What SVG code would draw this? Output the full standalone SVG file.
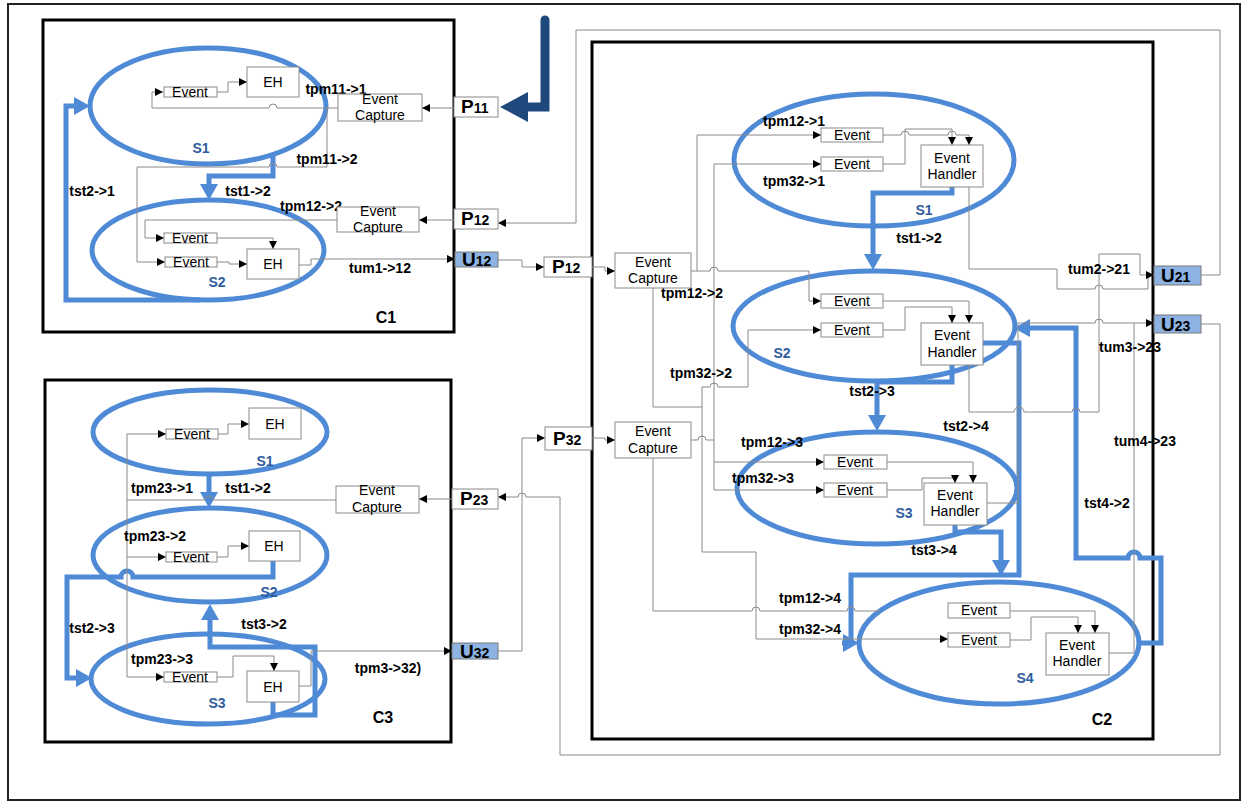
<svg xmlns="http://www.w3.org/2000/svg" width="1247" height="804" viewBox="0 0 1247 804">
<defs>
<style>
.w{fill:none;stroke:#8a8a8a;stroke-width:1}
.wa{marker-end:url(#a)}
.b{fill:none;stroke:#4f8ad6;stroke-width:5;marker-end:url(#ba)}
.el{fill:none;stroke:#4f8ad6;stroke-width:5}
.bx{fill:#fff;stroke:#8a8a8a;stroke-width:1}
.ub{fill:#8db3e2;stroke:#7a7a7a;stroke-width:1}
.ct{fill:none;stroke:#000;stroke-width:3}
text{font-family:'Liberation Sans',Arial,sans-serif;fill:#000}
.t{font-size:14px;text-anchor:middle}
.l{font-size:14px;font-weight:bold;text-anchor:middle}
.s{font-size:14px;font-weight:bold;text-anchor:middle;fill:#2e5c9e}
.c{font-size:16px;font-weight:bold;text-anchor:middle}
.p{font-size:19px;font-weight:bold}
.p tspan{font-size:14px}
</style>
<marker id="a" viewBox="0 0 8 8" refX="8" refY="4" markerWidth="8" markerHeight="8" markerUnits="userSpaceOnUse" orient="auto"><path d="M0,0 L8,4 L0,8 z" fill="#000"/></marker>
<marker id="ba" viewBox="0 0 16 18" refX="0" refY="9" markerWidth="16" markerHeight="18" markerUnits="userSpaceOnUse" orient="auto"><path d="M0,0 L16,9 L0,18 z" fill="#4f8ad6"/></marker>
<marker id="na" viewBox="0 0 28 30" refX="0" refY="15" markerWidth="28" markerHeight="30" markerUnits="userSpaceOnUse" orient="auto"><path d="M0,0 L28,15 L0,30 z" fill="#1f497d"/></marker>
</defs>
<rect x="0" y="0" width="1247" height="804" fill="#fff"/>
<rect x="8" y="4" width="1232" height="796" fill="none" stroke="#222" stroke-width="2"/>

<g id="C1"><rect class="ct" x="43" y="20" width="411" height="312"/><text class="c" x="386" y="323">C1</text></g>
<g id="C3"><rect class="ct" x="45" y="380" width="406" height="362"/><text class="c" x="383" y="723">C3</text></g>
<g id="C2"><rect class="ct" x="592" y="42" width="561" height="697"/><text class="c" x="1102" y="725">C2</text></g>

<g id="C1-S1"><ellipse class="el" cx="208" cy="106" rx="118" ry="58"/><text class="s" x="201" y="153">S1</text></g>
<g id="C1-S2"><ellipse class="el" cx="208" cy="250" rx="116" ry="50"/><text class="s" x="217" y="287">S2</text></g>
<g id="C3-S1"><ellipse class="el" cx="210" cy="432" rx="117" ry="42"/><text class="s" x="265" y="466">S1</text></g>
<g id="C3-S2"><ellipse class="el" cx="210" cy="555" rx="117" ry="47"/><text class="s" x="269" y="597">S2</text></g>
<g id="C3-S3"><ellipse class="el" cx="208" cy="679" rx="117" ry="45"/><text class="s" x="217" y="708">S3</text></g>
<g id="C2-S1"><ellipse class="el" cx="874" cy="160" rx="140" ry="66"/><text class="s" x="924" y="215">S1</text></g>
<g id="C2-S2"><ellipse class="el" cx="874" cy="326" rx="141" ry="55"/><text class="s" x="782" y="358">S2</text></g>
<g id="C2-S3"><ellipse class="el" cx="877" cy="488" rx="140" ry="56"/><text class="s" x="904" y="518">S3</text></g>
<g id="C2-S4"><ellipse class="el" cx="999" cy="643" rx="140" ry="61"/><text class="s" x="1025" y="683">S4</text></g>

<g id="connectors">
<path d="M545,20 V107 H528" fill="none" stroke="#1f497d" stroke-width="9" stroke-linecap="round" marker-end="url(#na)"/>
<path class="b" d="M273,153 V176 H209 V184"/>
<path class="b" d="M200,300 H66 V106 H74"/>
<path class="b" d="M209,475 V492"/>
<path class="b" d="M273,561 V577 H133 a6,6 0 0 0 -12,0 H67 V678 H76"/>
<path class="b" d="M273,702 V715 H315 V647 H210 V620"/>
<path class="b" d="M952,187 V193 H873 V254"/>
<path class="b" d="M952,365 V382 H877 V415"/>
<path class="b" d="M983,343 H1019 V575 H851 V645 M842,643 h1"/>
<path class="b" d="M955,525 V532 H1001 V560"/>
<path class="b" d="M1139,643 H1161 V558 H1140 a6,6 0 0 0 -12,0 H1076 V328 H1030"/>

<path class="w wa" d="M454,108 H422"/>
<path class="w wa" d="M338,108 H277 a4,4 0 0 0 -8,0 H152 V92 H163"/>
<path class="w wa" d="M327,108 V167 H277 a4,4 0 0 0 -8,0 H137 V262 H165"/>
<path class="w wa" d="M217,92 H228 V82 H247"/>
<path class="w wa" d="M337,220 H145 V238 H164"/>
<path class="w wa" d="M454,220 H419"/>
<path class="w wa" d="M217,238 H273 V249"/>
<path class="w wa" d="M217,262 H229 V264 H247"/>
<path class="w wa" d="M299,265 H311 V259 H455"/>
<path class="w wa" d="M498,260 H522 V267 H544"/>
<path class="w wa" d="M592,267 H605 V271 H615"/>
<path class="w wa" d="M1201,275 H1220 V30 H576 V223 H498"/>

<path class="w" d="M336,500 H213 a4,4 0 0 0 -8,0 H127"/>
<path class="w wa" d="M127,434 V677 H164"/>
<path class="w wa" d="M127,434 H166"/>
<path class="w wa" d="M127,557 H166"/>
<path class="w wa" d="M452,499 H419"/>
<path class="w wa" d="M218,434 H228 V424 H249"/>
<path class="w wa" d="M217,557 H228 V546 H249"/>
<path class="w wa" d="M217,677 H233 V656 H274 V671"/>
<path class="w wa" d="M299,686 H311 V651 H452"/>
<path class="w wa" d="M498,651 H522 V438 H545"/>
<path class="w wa" d="M592,438 H605 V440 H615"/>
<path class="w wa" d="M1201,324 H1220 V755 H560 V497 H526 a4,4 0 0 0 -8,0 H498"/>

<path class="w wa" d="M691,271 H710 a4,4 0 0 1 8,0 H809 V301 H821"/>
<path class="w wa" d="M697,271 V135 H821"/>
<path class="w" d="M653,288 V407 H702"/>
<path class="w wa" d="M702,387 V552 H756 V639 H948"/>
<path class="w wa" d="M702,387 H710 a4,4 0 0 1 8,0 H748 V330 H821"/>
<path class="w" d="M691,440 H698 a4,4 0 0 1 8,0 H714"/>
<path class="w" d="M714,164 V490"/>
<path class="w wa" d="M714,164 H821"/>
<path class="w wa" d="M714,462 H824"/>
<path class="w wa" d="M714,490 H824"/>
<path class="w" d="M653,458 V611 H752 a4,4 0 0 1 8,0 H847 a4,4 0 0 1 8,0 H880"/>
<path class="w wa" d="M883,135 H901 a4,4 0 0 1 8,0 H948 a4,4 0 0 1 8,0 H969 V145"/>
<path class="w wa" d="M883,164 H905 V129 H952 V145"/>
<path class="w wa" d="M883,301 H969 V323"/>
<path class="w wa" d="M883,330 H905 V307 H952 V323"/>
<path class="w wa" d="M887,462 H973 V483"/>
<path class="w wa" d="M887,490 H922 V478 H955 V483"/>
<path class="w wa" d="M1010,611 H1095 V633"/>
<path class="w wa" d="M1010,640 H1031 V617 H1078 V633"/>
<path class="w" d="M969,187 V269 H1057 V289 H1095 a4,4 0 0 1 8,0 H1148 V276"/>
<path class="w wa" d="M969,365 V412 H1014 a5,5 0 0 1 10,0 H1072 a4,4 0 0 1 8,0 H1099 V254 H1140 V275 H1154"/>
<path class="w wa" d="M987,503 H1018 V323 H1095 a4,4 0 0 1 8,0 H1154"/>
<path class="w" d="M1109,653 H1134 V323"/>

<text class="l" x="336" y="94">tpm11-&gt;1</text>
<text class="l" x="327" y="164">tpm11-&gt;2</text>
<text class="l" x="248" y="196">tst1-&gt;2</text>
<text class="l" x="92" y="196">tst2-&gt;1</text>
<text class="l" x="311" y="211">tpm12-&gt;2</text>
<text class="l" x="380" y="273">tum1-&gt;12</text>
<text class="l" x="162" y="493">tpm23-&gt;1</text>
<text class="l" x="248" y="493">tst1-&gt;2</text>
<text class="l" x="155" y="541">tpm23-&gt;2</text>
<text class="l" x="92" y="633">tst2-&gt;3</text>
<text class="l" x="264" y="629">tst3-&gt;2</text>
<text class="l" x="162" y="664">tpm23-&gt;3</text>
<text class="l" x="388" y="673">tpm3-&gt;32)</text>
<text class="l" x="794" y="126">tpm12-&gt;1</text>
<text class="l" x="794" y="186">tpm32-&gt;1</text>
<text class="l" x="692" y="298">tpm12-&gt;2</text>
<text class="l" x="919" y="243">tst1-&gt;2</text>
<text class="l" x="701" y="378">tpm32-&gt;2</text>
<text class="l" x="872" y="396">tst2-&gt;3</text>
<text class="l" x="772" y="447">tpm12-&gt;3</text>
<text class="l" x="763" y="483">tpm32-&gt;3</text>
<text class="l" x="966" y="431">tst2-&gt;4</text>
<text class="l" x="934" y="555">tst3-&gt;4</text>
<text class="l" x="810" y="603">tpm12-&gt;4</text>
<text class="l" x="810" y="634">tpm32-&gt;4</text>
<text class="l" x="1099" y="274">tum2-&gt;21</text>
<text class="l" x="1130" y="352">tum3-&gt;23</text>
<text class="l" x="1145" y="446">tum4-&gt;23</text>
<text class="l" x="1107" y="508">tst4-&gt;2</text>
</g>

<g id="C1-S1-Event"><rect class="bx" x="164" y="87" width="53" height="10"/><text class="t" x="190" y="97">Event</text></g>
<g id="C1-S1-EH"><rect class="bx" x="247" y="67" width="52" height="30"/><text class="t" x="273" y="87">EH</text></g>
<g id="C1-S2-Event1"><rect class="bx" x="164" y="233" width="53" height="10"/><text class="t" x="190" y="243">Event</text></g>
<g id="C1-S2-Event2"><rect class="bx" x="165" y="257" width="52" height="10"/><text class="t" x="191" y="267">Event</text></g>
<g id="C1-S2-EH"><rect class="bx" x="247" y="249" width="52" height="30"/><text class="t" x="273" y="269">EH</text></g>
<g id="C1-EC1"><rect class="bx" x="338" y="94" width="84" height="27"/><text class="t" x="380" y="104">Event</text><text class="t" x="380" y="120">Capture</text></g>
<g id="C1-EC2"><rect class="bx" x="337" y="207" width="82" height="25"/><text class="t" x="378" y="216">Event</text><text class="t" x="378" y="232">Capture</text></g>
<g id="P11"><rect class="bx" x="454" y="97" width="44" height="20"/><text class="p" x="461" y="113">P<tspan>11</tspan></text></g>
<g id="P12-C1"><rect class="bx" x="454" y="209" width="44" height="20"/><text class="p" x="461" y="225">P<tspan>12</tspan></text></g>
<g id="U12"><rect class="ub" x="455" y="252" width="43" height="15"/><text class="p" x="462" y="266">U<tspan>12</tspan></text></g>

<g id="C3-S1-Event"><rect class="bx" x="166" y="429" width="52" height="10"/><text class="t" x="192" y="439">Event</text></g>
<g id="C3-S1-EH"><rect class="bx" x="249" y="408" width="52" height="31"/><text class="t" x="275" y="429">EH</text></g>
<g id="C3-S2-Event"><rect class="bx" x="166" y="552" width="51" height="10"/><text class="t" x="191" y="562">Event</text></g>
<g id="C3-S2-EH"><rect class="bx" x="249" y="531" width="51" height="30"/><text class="t" x="274" y="551">EH</text></g>
<g id="C3-S3-Event"><rect class="bx" x="164" y="672" width="53" height="10"/><text class="t" x="190" y="682">Event</text></g>
<g id="C3-S3-EH"><rect class="bx" x="247" y="671" width="52" height="31"/><text class="t" x="273" y="692">EH</text></g>
<g id="C3-EC"><rect class="bx" x="336" y="486" width="83" height="27"/><text class="t" x="377" y="495">Event</text><text class="t" x="377" y="512">Capture</text></g>
<g id="P23"><rect class="bx" x="452" y="489" width="46" height="20"/><text class="p" x="460" y="505">P<tspan>23</tspan></text></g>
<g id="U32"><rect class="ub" x="452" y="643" width="46" height="16"/><text class="p" x="460" y="658">U<tspan>32</tspan></text></g>

<g id="P12-mid"><rect class="bx" x="544" y="257" width="48" height="20"/><text class="p" x="552" y="273">P<tspan>12</tspan></text></g>
<g id="P32"><rect class="bx" x="545" y="427" width="47" height="23"/><text class="p" x="553" y="445">P<tspan>32</tspan></text></g>
<g id="C2-ECA"><rect class="bx" x="615" y="253" width="76" height="35"/><text class="t" x="653" y="267">Event</text><text class="t" x="653" y="283">Capture</text></g>
<g id="C2-ECB"><rect class="bx" x="615" y="422" width="76" height="36"/><text class="t" x="653" y="436">Event</text><text class="t" x="653" y="453">Capture</text></g>

<g id="C2-S1-Event1"><rect class="bx" x="821" y="128" width="62" height="14"/><text class="t" x="852" y="140">Event</text></g>
<g id="C2-S1-Event2"><rect class="bx" x="821" y="157" width="62" height="14"/><text class="t" x="852" y="169">Event</text></g>
<g id="C2-S1-EH"><rect class="bx" x="921" y="145" width="62" height="42"/><text class="t" x="952" y="163">Event</text><text class="t" x="952" y="179">Handler</text></g>
<g id="C2-S2-Event1"><rect class="bx" x="821" y="294" width="62" height="14"/><text class="t" x="852" y="306">Event</text></g>
<g id="C2-S2-Event2"><rect class="bx" x="821" y="323" width="62" height="14"/><text class="t" x="852" y="335">Event</text></g>
<g id="C2-S2-EH"><rect class="bx" x="921" y="323" width="62" height="42"/><text class="t" x="952" y="340">Event</text><text class="t" x="952" y="357">Handler</text></g>
<g id="C2-S3-Event1"><rect class="bx" x="824" y="455" width="63" height="14"/><text class="t" x="855" y="467">Event</text></g>
<g id="C2-S3-Event2"><rect class="bx" x="824" y="483" width="63" height="14"/><text class="t" x="855" y="495">Event</text></g>
<g id="C2-S3-EH"><rect class="bx" x="924" y="483" width="63" height="42"/><text class="t" x="955" y="500">Event</text><text class="t" x="955" y="516">Handler</text></g>
<g id="C2-S4-Event1"><rect class="bx" x="948" y="603" width="62" height="15"/><text class="t" x="979" y="615">Event</text></g>
<g id="C2-S4-Event2"><rect class="bx" x="948" y="633" width="62" height="14"/><text class="t" x="979" y="645">Event</text></g>
<g id="C2-S4-EH"><rect class="bx" x="1046" y="633" width="63" height="42"/><text class="t" x="1077" y="650">Event</text><text class="t" x="1077" y="666">Handler</text></g>
<g id="U21"><rect class="ub" x="1154" y="266" width="47" height="19"/><text class="p" x="1161" y="282">U<tspan>21</tspan></text></g>
<g id="U23"><rect class="ub" x="1154" y="315" width="47" height="18"/><text class="p" x="1161" y="331">U<tspan>23</tspan></text></g>
</svg>
